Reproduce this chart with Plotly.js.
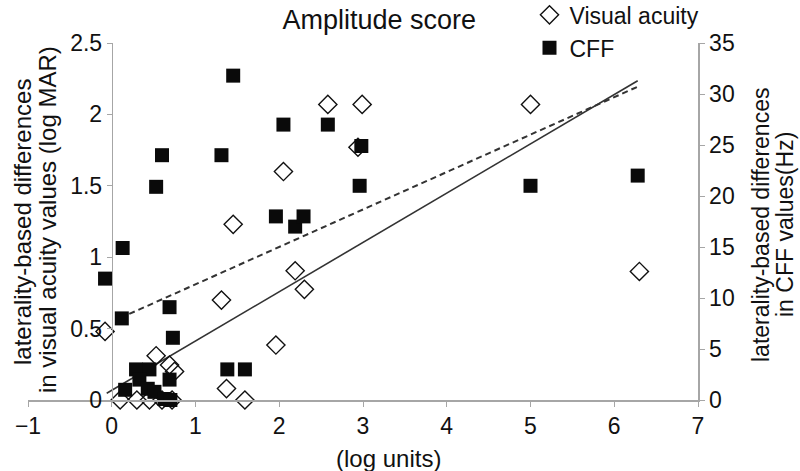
<!DOCTYPE html>
<html>
<head>
<meta charset="utf-8">
<script src="https://cdn.plot.ly/plotly-3.0.1.min.js"></script>
<style>html,body{margin:0;padding:0;background:#fff;}#chart{width:800px;height:471px;}</style>
</head>
<body>
<div id="chart"></div>
<script>
// Visual acuity (left axis, logMAR)
const vaX = [-0.08, 0.10, 0.30, 0.45, 0.60, 0.72, 0.53, 0.69, 0.75, 1.31, 1.37, 1.45, 1.59, 1.96, 2.05, 2.19, 2.30, 2.58, 2.94, 2.99, 5.00, 6.30];
const vaY = [0.48, 0, 0, 0, 0, 0, 0.31, 0.245, 0.20, 0.70, 0.08, 1.23, 0, 0.385, 1.60, 0.905, 0.775, 2.07, 1.77, 2.07, 2.07, 0.90];
// CFF (right axis, Hz)
const cffX = [-0.08, 0.12, 0.13, 0.53, 0.60, 0.69, 0.73, 0.29, 0.45, 0.33, 0.69, 0.16, 0.43, 0.51, 0.63, 0.70, 1.31, 1.38, 1.45, 1.59, 1.96, 2.05, 2.19, 2.29, 2.58, 2.96, 2.98, 5.00, 6.28];
const cffY = [11.9, 8.0, 14.9, 20.9, 24.0, 9.1, 6.1, 3.0, 3.0, 2.0, 2.0, 1.0, 1.1, 0.8, 0.1, 0.0, 24.0, 3.0, 31.8, 3.0, 18.0, 27.0, 17.0, 18.0, 27.0, 21.0, 24.9, 21.0, 22.0];
// Trend lines (endpoints, left-axis units)
const solidX = [-0.06, 6.28];
const solidY = [0.047, 2.236];
const dashX = [0.10, 6.28];
const dashY = [0.574, 2.194];
const xTicks = [-1, 0, 1, 2, 3, 4, 5, 6, 7];
const yTicks = [0, 0.5, 1, 1.5, 2, 2.5];
const y2Ticks = [0, 5, 10, 15, 20, 25, 30, 35];

const axisGray = '#a6a6a6';
const sans = 'Liberation Sans, Arial, sans-serif';
const tickFont = {family: sans, size: 23, color: '#111'};
const titleFont = {family: sans, size: 24, color: '#111'};
const rightTitleFont = {family: sans, size: 23, color: '#111'};

const traces = [
  {x: solidX, y: solidY, mode: 'lines', line: {color: '#333', width: 1.6}, showlegend: false, hoverinfo: 'skip'},
  {x: dashX, y: dashY, mode: 'lines', line: {color: '#333', width: 2, dash: '6px,4px'}, showlegend: false, hoverinfo: 'skip'},
  {x: vaX, y: vaY, mode: 'markers', name: 'Visual acuity', cliponaxis: false,
   marker: {symbol: 'diamond-open', size: 14, color: '#111', line: {width: 1.4, color: '#111'}}},
  {x: cffX, y: cffY, yaxis: 'y2', mode: 'markers', name: 'CFF', cliponaxis: false,
   marker: {symbol: 'square', size: 14, color: '#0a0a0a'}}
];

const layout = {
  width: 800, height: 471,
  margin: {l: 28, r: 102, t: 43, b: 71, autoexpand: false},
  paper_bgcolor: '#fff', plot_bgcolor: 'rgba(0,0,0,0)',
  showlegend: true,
  title: {text: 'Amplitude score', x: 0.474, xref: 'container', xanchor: 'center', y: 0.958, yref: 'container', yanchor: 'middle',
          font: {family: sans, size: 27, color: '#111'}},
  legend: {x: 0.7485, xanchor: 'left', y: 1.139, yanchor: 'top', bgcolor: 'rgba(0,0,0,0)',
           font: {family: sans, size: 23, color: '#111'}, itemwidth: 30, tracegroupgap: 0},
  xaxis: {range: [-1, 7], tickvals: xTicks, ticks: 'outside', ticklen: 5, tickcolor: axisGray,
          showline: true, linecolor: axisGray, linewidth: 1.5, showgrid: false, zeroline: false,
          tickfont: tickFont, fixedrange: true},
  yaxis: {range: [0, 2.5], tickvals: yTicks, anchor: 'free', position: 0.125, ticks: 'outside', ticklen: 5,
          tickcolor: axisGray, showline: true, linecolor: axisGray, linewidth: 1.5, showgrid: false,
          zeroline: false, tickfont: tickFont, fixedrange: true, automargin: false},
  yaxis2: {range: [0, 35], tickvals: y2Ticks, overlaying: 'y', side: 'right', anchor: 'x', ticks: 'outside',
           ticklen: 5, tickcolor: axisGray, showline: true, linecolor: axisGray, linewidth: 1.5,
           showgrid: false, zeroline: false, tickfont: tickFont, fixedrange: true, automargin: false},
  annotations: [
    {text: '(log units)', xref: 'paper', yref: 'paper', x: (388 - 28) / 670, y: -(458 - 400) / 357,
     xanchor: 'center', yanchor: 'middle', showarrow: false, font: titleFont},
    {text: 'laterality-based differences', xref: 'paper', yref: 'paper',
     x: (22 - 28) / 670, y: (400 - 222) / 357, xanchor: 'center', yanchor: 'middle', textangle: -90,
     showarrow: false, font: titleFont},
    {text: 'in visual acuity values (log MAR)', xref: 'paper', yref: 'paper',
     x: (47 - 28) / 670, y: (400 - 220) / 357, xanchor: 'center', yanchor: 'middle', textangle: -90,
     showarrow: false, font: titleFont},
    {text: 'laterality-based differences', xref: 'paper', yref: 'paper',
     x: (761 - 28) / 670, y: (400 - 225) / 357, xanchor: 'center', yanchor: 'middle', textangle: -90,
     showarrow: false, font: rightTitleFont},
    {text: 'in CFF values(Hz)', xref: 'paper', yref: 'paper',
     x: (785 - 28) / 670, y: (400 - 225) / 357, xanchor: 'center', yanchor: 'middle', textangle: -90,
     showarrow: false, font: rightTitleFont}
  ]
};

Plotly.newPlot('chart', traces, layout, {displayModeBar: false, staticPlot: true});
</script>
</body>
</html>
